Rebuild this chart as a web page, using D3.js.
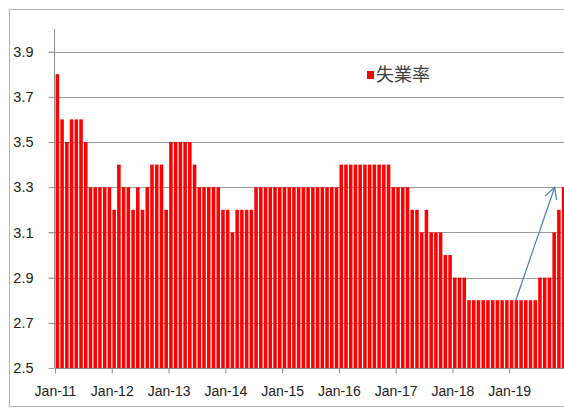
<!DOCTYPE html>
<html>
<head>
<meta charset="utf-8">
<script src="https://cdn.jsdelivr.net/npm/d3@7"></script>
<style>
  html, body { margin: 0; padding: 0; background: #fff; }
  svg { display: block; }
  text { font-family: "Liberation Sans", Arial, sans-serif; }
</style>
</head>
<body>
<div id="chart"></div>
<script>
// --- data (monthly rate, %) ---
const yearLabels = ["Jan-11", "Jan-12", "Jan-13", "Jan-14", "Jan-15", "Jan-16", "Jan-17", "Jan-18", "Jan-19"];
const rate2011 = [3.8, 3.6, 3.5, 3.6, 3.6, 3.6, 3.5, 3.3, 3.3, 3.3, 3.3, 3.3];
const rate2012 = [3.2, 3.4, 3.3, 3.3, 3.2, 3.3, 3.2, 3.3, 3.4, 3.4, 3.4, 3.2];
const rate2013 = [3.5, 3.5, 3.5, 3.5, 3.5, 3.4, 3.3, 3.3, 3.3, 3.3, 3.3, 3.2];
const rate2014 = [3.2, 3.1, 3.2, 3.2, 3.2, 3.2, 3.3, 3.3, 3.3, 3.3, 3.3, 3.3];
const rate2015 = [3.3, 3.3, 3.3, 3.3, 3.3, 3.3, 3.3, 3.3, 3.3, 3.3, 3.3, 3.3];
const rate2016 = [3.4, 3.4, 3.4, 3.4, 3.4, 3.4, 3.4, 3.4, 3.4, 3.4, 3.4, 3.3];
const rate2017 = [3.3, 3.3, 3.3, 3.2, 3.2, 3.1, 3.2, 3.1, 3.1, 3.1, 3.0, 3.0];
const rate2018 = [2.9, 2.9, 2.9, 2.8, 2.8, 2.8, 2.8, 2.8, 2.8, 2.8, 2.8, 2.8];
const rate2019 = [2.8, 2.8, 2.8, 2.8, 2.8, 2.8, 2.9, 2.9, 2.9, 3.1, 3.2, 3.3];
const yTicks = [2.5, 2.7, 2.9, 3.1, 3.3, 3.5, 3.7, 3.9];
const seriesName = "失業率";
// trend arrow: [month index, rate] from / to
const arrowFrom = [97.4, 2.8];
const arrowTo = [105.6, 3.3];

const rates = [].concat(rate2011, rate2012, rate2013, rate2014, rate2015,
                        rate2016, rate2017, rate2018, rate2019);

const W = 564, H = 409;
const plot = { left: 55, right: 566, top: 29, bottom: 368 };

const svg = d3.select("#chart").append("svg")
    .attr("width", W)
    .attr("height", H);

// chart area border
svg.append("rect")
    .attr("x", 9.5).attr("y", 9.5)
    .attr("width", 620).attr("height", 397)
    .attr("fill", "none")
    .attr("stroke", "#b3b3b3")
    .attr("stroke-width", 1);

// scales
const x = d3.scaleBand()
    .domain(d3.range(rates.length))
    .range([plot.left, plot.right])
    .paddingInner(0.25)
    .paddingOuter(0.125);

const xPos = d3.scaleLinear()
    .domain([0, rates.length])
    .range([plot.left, plot.right]);

const y = d3.scaleLinear()
    .domain([2.5, 4.0])
    .range([plot.bottom, plot.top]);

// gridlines
svg.append("g")
    .selectAll("line")
    .data(yTicks.filter(t => t > 2.5))
    .join("line")
    .attr("x1", plot.left - 6).attr("x2", plot.right)
    .attr("y1", d => Math.round(y(d)) + 0.5)
    .attr("y2", d => Math.round(y(d)) + 0.5)
    .attr("stroke", "#9c9c9c")
    .attr("stroke-width", 1.2);

// bars
svg.append("g")
    .selectAll("rect")
    .data(rates)
    .join("rect")
    .attr("x", (d, i) => x(i))
    .attr("width", x.bandwidth())
    .attr("y", d => y(d))
    .attr("height", d => y(2.5) - y(d))
    .attr("fill", "#ff0000");

// y axis
const yAxis = svg.append("g")
    .attr("transform", `translate(${plot.left - 0.5},0)`)
    .call(d3.axisLeft(y).tickValues(yTicks).tickSize(6).tickPadding(15).tickFormat(d3.format(".1f")));
yAxis.select(".domain").attr("stroke", "#8c8c8c").attr("d", `M0,${plot.top}V${plot.bottom}`);
yAxis.selectAll(".tick line").attr("stroke", "#9c9c9c");
yAxis.selectAll(".tick text")
    .attr("fill", "#222")
    .style("font-size", "14.5px")
    .style("font-family", "'Liberation Sans', Arial, sans-serif");

// x axis
const xAxis = svg.append("g")
    .attr("transform", `translate(0,${plot.bottom + 0.5})`)
    .call(d3.axisBottom(xPos)
        .tickValues(yearLabels.map((d, i) => i * 12))
        .tickFormat((d, i) => yearLabels[i])
        .tickSize(5)
        .tickPadding(13));
xAxis.select(".domain").attr("stroke", "#8c8c8c").attr("d", `M${plot.left},0H${plot.right}`);
xAxis.selectAll(".tick line").attr("stroke", "#8c8c8c");
xAxis.selectAll(".tick text")
    .attr("fill", "#222")
    .style("font-size", "14px")
    .style("font-family", "'Liberation Sans', Arial, sans-serif");

// legend
const legend = svg.append("g").attr("transform", "translate(367,71)");
legend.append("rect")
    .attr("width", 7).attr("height", 8)
    .attr("fill", "#ff0000");
legend.append("text")
    .attr("x", 9).attr("y", 4)
    .attr("dy", "0.36em")
    .attr("fill", "#404040")
    .style("font-size", "18px")
    .style("font-family", "'Noto Sans CJK JP', 'Noto Sans CJK TC', sans-serif")
    .text(seriesName);

// trend arrow
const ax1 = xPos(arrowFrom[0]), ay1 = y(arrowFrom[1]);
const ax2 = xPos(arrowTo[0]), ay2 = y(arrowTo[1]);
const ang = Math.atan2(ay1 - ay2, ax1 - ax2);
const headLen = 13, headAng = 28 * Math.PI / 180;
const arrow = svg.append("g")
    .attr("stroke", "#4a7ebb")
    .attr("stroke-width", 1.2)
    .attr("fill", "none");
arrow.append("line")
    .attr("x1", ax1).attr("y1", ay1)
    .attr("x2", ax2).attr("y2", ay2);
arrow.append("path")
    .attr("d", `M${ax2 + headLen * Math.cos(ang - headAng)},${ay2 + headLen * Math.sin(ang - headAng)}` +
               `L${ax2},${ay2}` +
               `L${ax2 + headLen * Math.cos(ang + headAng)},${ay2 + headLen * Math.sin(ang + headAng)}`);
</script>
</body>
</html>
